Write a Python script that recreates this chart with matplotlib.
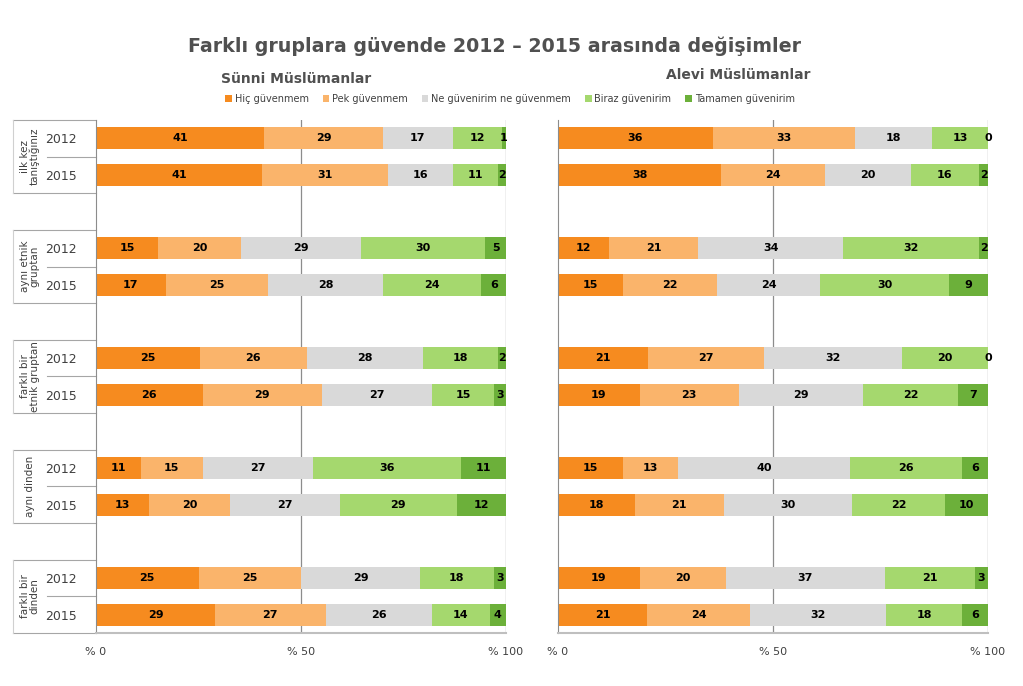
import matplotlib
matplotlib.use("Agg")
import matplotlib.pyplot as plt
import matplotlib.transforms as mtransforms
import numpy as np

plt.rcParams['font.family'] = ['DejaVu Sans']

# Data
categories = ["Hiç güvenmem", "Pek güvenmem", "Ne güvenirim ne güvenmem",
              "Biraz güvenirim", "Tamamen güvenirim"]
colors = ["#F68B1F", "#FAB46B", "#D9D9D9", "#A5D86E", "#6CB03A"]
groups = ["ilk kez\ntanıştığınız", "aynı etnik\ngruptan", "farklı bir\netnik gruptan",
          "aynı dinden", "farklı bir\ndinden"]
years = ["2012", "2015"]

sunni = [
    [41, 29, 17, 12, 1],
    [41, 31, 16, 11, 2],
    [15, 20, 29, 30, 5],
    [17, 25, 28, 24, 6],
    [25, 26, 28, 18, 2],
    [26, 29, 27, 15, 3],
    [11, 15, 27, 36, 11],
    [13, 20, 27, 29, 12],
    [25, 25, 29, 18, 3],
    [29, 27, 26, 14, 4],
]
alevi = [
    [36, 33, 18, 13, 0],
    [38, 24, 20, 16, 2],
    [12, 21, 34, 32, 2],
    [15, 22, 24, 30, 9],
    [21, 27, 32, 20, 0],
    [19, 23, 29, 22, 7],
    [15, 13, 40, 26, 6],
    [18, 21, 30, 22, 10],
    [19, 20, 37, 21, 3],
    [21, 24, 32, 18, 6],
]

# row positions: two years per group, one blank slot between groups
ypos = []
for g in range(len(groups)):
    ypos += [g * 3, g * 3 + 1]
ypos = np.array(ypos)

W, H = 1023, 686
fig = plt.figure(figsize=(W / 100, H / 100), dpi=100)


def draw(ax, data):
    arr = np.array(data, dtype=float)
    pct = arr / arr.sum(axis=1, keepdims=True) * 100
    left = np.zeros(len(arr))
    for i in range(len(categories)):
        ax.barh(ypos, pct[:, i], left=left, height=0.6, color=colors[i],
                label=categories[i], zorder=2)
        for y, l, w, v in zip(ypos, left, pct[:, i], arr[:, i]):
            ax.text(l + w / 2, y, "%d" % v, ha="center", va="center",
                    fontsize=8, fontweight="bold", color="black", zorder=3)
        left += pct[:, i]
    ax.set_xlim(0, 100)
    ax.set_ylim(13.5, -0.5)
    ax.set_xticks([0, 50, 100])
    ax.set_xticklabels(["% 0", "% 50", "% 100"], fontsize=8, color="#404040")
    ax.tick_params(axis="x", length=0, pad=10)
    for x in [50, 100]:
        ax.axvline(x, color="#8C8C8C", lw=0.9, zorder=1)
    for s in ["top", "right"]:
        ax.spines[s].set_visible(False)
    ax.spines["left"].set_color("#8C8C8C")
    ax.spines["bottom"].set_color("#BFBFBF")
    ax.spines["bottom"].set_linewidth(1.5)


axL = fig.add_axes([96 / W, 1 - 633 / H, 410 / W, 513 / H])
draw(axL, sunni)
axL.set_yticks(ypos)
axL.set_yticklabels(years * len(groups), fontsize=9, color="#404040")
axL.tick_params(axis="y", length=0, pad=14)

# multi-level category labels and separators
tr = mtransforms.blended_transform_factory(axL.transAxes, axL.transData)
x_out = (13 - 96) / 410
x_in = (47 - 96) / 410
for g, name in enumerate(groups):
    y0 = g * 3 - 0.5
    y1 = g * 3 + 1.5
    axL.plot([x_out, 0], [y0, y0], transform=tr, color="#A6A6A6", lw=0.8, clip_on=False)
    axL.plot([x_out, 0], [y1, y1], transform=tr, color="#A6A6A6", lw=0.8, clip_on=False)
    axL.plot([x_in, 0], [g * 3 + 0.5] * 2, transform=tr, color="#A6A6A6", lw=0.8, clip_on=False)
    axL.plot([x_out, x_out], [y0, y1], transform=tr, color="#D0D0D0", lw=0.8, clip_on=False)
    axL.text((30 - 96) / 410, g * 3 + 0.5, name, transform=tr, rotation=90,
             ha="center", va="center", fontsize=7.5, color="#404040",
             linespacing=0.95)

axR = fig.add_axes([558 / W, 1 - 633 / H, 430 / W, 513 / H])
draw(axR, alevi)
axR.set_yticks([])

fig.text(495 / W, 1 - 46 / H, "Farklı gruplara güvende 2012 – 2015 arasında değişimler",
         ha="center", va="center", fontsize=13.7, fontweight="bold", color="#505050")
fig.text(296 / W, 1 - 79 / H, "Sünni Müslümanlar", ha="center", va="center",
         fontsize=10, fontweight="bold", color="#505050")
fig.text(738 / W, 1 - 75 / H, "Alevi Müslümanlar", ha="center", va="center",
         fontsize=10, fontweight="bold", color="#505050")

handles, labels = axL.get_legend_handles_labels()
fig.legend(handles, labels, loc="center", bbox_to_anchor=(510 / W, 1 - 99 / H),
           ncol=5, frameon=False, fontsize=7, handlelength=0.7, handleheight=0.7,
           handletextpad=0.3, columnspacing=1.4, labelcolor="#404040")

fig.savefig("out.png", dpi=100)
